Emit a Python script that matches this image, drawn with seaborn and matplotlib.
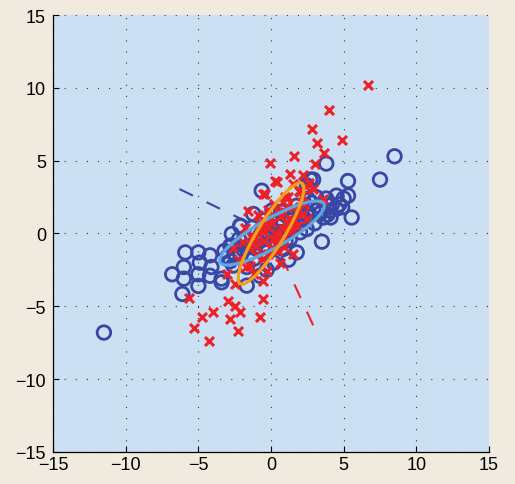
import numpy as np
import matplotlib
matplotlib.use("Agg")
import matplotlib.pyplot as plt
import seaborn as sns
from matplotlib.patches import Ellipse

# ---------------------------
# data
# ---------------------------
blue_x = [-11.5, -5.9, -5.0, -4.2, -6.0, -6.8, -6.0, -6.1, -4.9, -5.0, -4.2, -5.0,
          -3.4, -4.1, -2.8, -2.7, -2.1, -0.64, -1.22, -2.13, -2.7, -2.8, -1.67, -0.76,
          -1.67, -2.6, -3.4, -2.1, -1.45, -0.76, -0.07, 0.85, 1.3, 2.0, 2.2, 2.9,
          3.1, 3.8, 4.05, 2.46, 2.7, 1.77, 0.85, 0.39, -0.3, -1.2, 1.77, 2.46,
          3.6, 4.5, 4.5, 5.3, 3.8, 5.3, 5.55, 5.0, 4.9, 4.1, 3.5, 2.9,
          8.5, 7.5, 0.5, 1.0, -0.5, 1.5, 2.5, 3.0, -1.0, -1.8, 0.2, 1.2,
          -0.3, -3.2, -2.4, -1.3, 0.1, 1.6, 2.8, 3.4, -0.9, 0.7,
          -2.2, -1.6, -0.9, -0.2, 0.6, 1.4, 2.1, 3.3, 4.2, -3.0, -1.9, -1.1,
          0.3, 1.1, 1.9, 2.6, 3.9, 4.7, -2.5, -0.5]
blue_y = [-6.8, -1.3, -1.3, -1.5, -2.3, -2.8, -3.1, -4.15, -2.0, -2.8, -2.9, -3.6,
          -3.35, -2.3, -1.9, -0.84, 0.5, 2.94, 1.34, 0.54, -0.03, -0.84, -3.58, -2.9,
          -2.3, -2.2, -3.1, -1.3, -0.84, -0.15, 0.3, -1.06, -0.38, 0.08, 1.0, 1.7,
          2.5, 2.4, 1.56, 3.3, 3.7, 1.9, 0.77, -0.15, -1.3, -1.75, -1.3, 0.3,
          1.1, 1.7, 2.6, 2.6, 4.8, 3.6, 1.1, 2.4, 1.8, 1.1, -0.56, 3.7,
          5.3, 3.7, 0.5, -0.5, -0.8, 0.5, 1.2, 0.7, 0.0, -0.3, -2.0, -1.8,
          -2.5, -1.2, -1.6, 0.4, 1.6, 1.2, 2.1, 1.4, -0.6, 1.5,
          -0.4, -0.9, -0.5, 0.6, 0.1, 0.9, 1.4, 1.9, 2.0, -1.6, -1.1, -1.0,
          -0.7, 0.2, 0.6, 2.3, 1.3, 2.0, -1.4, 0.9]

red_x = [6.7, 4.0, 2.8, 3.15, 4.9, 3.67, 1.58, -0.1, 3.0, 1.3, 2.2, 0.28,
         1.53, 2.34, 2.9, -0.53, 3.6, -1.56, 0.85, 1.77, -0.07, 0.85, -0.5, -1.9,
         -1.0, 0.16, -0.3, 1.3, 1.53, -1.45, -0.53, -3.0, -2.5, -0.53, -0.53, -2.94,
         -2.48, -2.13, -2.8, -0.76, -2.25, -4.77, -3.97, -5.28, -5.64, -4.3, -0.3, 0.96,
         2.0, 2.2, 0.4, -0.4, 0.5, 1.0, 1.5, -0.5, 0.0, -1.0, 0.8, 1.8,
         2.3, -1.5, -0.8, 0.3, 1.2, -1.2, 0.6, 2.5, -2.2, 0.2, -2.6, -1.1,
         0.9, 1.9, -0.2, 2.6, -1.7, 0.4, 1.4, -0.9,
         -0.6, 0.1, 0.7, 1.1, -1.3, -0.2, 1.6, 2.1, -0.9, 0.5, 1.3, -1.8]
red_y = [10.2, 8.5, 7.2, 6.2, 6.4, 5.5, 5.34, 4.84, 4.8, 4.1, 4.0, 3.6,
         3.4, 3.28, 3.05, 2.7, 2.37, 1.56, 2.14, 1.45, 1.0, 0.3, 0.08, -0.6,
         -0.84, -0.38, 0.54, 1.0, -1.4, -2.2, -1.75, -2.8, -3.47, -3.24, -4.5, -4.6,
         -4.95, -5.4, -5.87, -5.75, -6.67, -5.75, -5.37, -6.5, -4.45, -7.4, -2.55, 2.5,
         2.83, 1.34, 3.55, 2.7, 1.5, 0.8, 1.8, -0.5, -1.0, -1.5, -0.2, 0.5,
         2.0, -1.0, 0.8, 0.0, 2.5, -2.8, -2.0, 1.0, -1.8, 2.0, -1.0, -0.3,
         -0.9, 2.9, 1.6, 3.5, -2.3, -0.4, 0.4, 0.3,
         0.3, 0.7, 1.2, 1.9, -0.3, -1.4, 0.9, 2.6, 1.3, -1.2, 0.1, 0.4]

# principal axes drawn as dashed lines through the origin
blue_dir_x = [-6.3, 0.0]
blue_dir_y = [3.05, 0.0]
red_dir_x = [2.9, 0.0]
red_dir_y = [-6.3, 0.0]

# covariance ellipses: centre, full width, full height, angle (deg)
ell_blue = dict(xy=(0.07, 0.03), width=8.2, height=2.0, angle=29.5)
ell_orange = dict(xy=(0.0, 0.0), width=8.1, height=1.8, angle=58.3)

BLUE = "#3846a6"
RED = "#ec2228"
LIGHTBLUE = "#5aa9e2"
ORANGE = "#f6a01a"

sns.set_style("white")
plt.rcParams['font.family'] = ['Liberation Sans', 'DejaVu Sans']

fig = plt.figure(figsize=(5.15, 4.85), dpi=100, facecolor="#f1ebdf")
ax = fig.add_axes([0.103, 0.066, 0.8465, 0.901])
ax.set_facecolor("#cce0f4")

ax.plot(blue_dir_x, blue_dir_y, color=BLUE, lw=1.5, dashes=(7.2, 7.2), zorder=2)
ax.plot(red_dir_x, red_dir_y, color=RED, lw=1.5, dashes=(7.2, 7.2), zorder=2)

sns.scatterplot(x=blue_x, y=blue_y, ax=ax, marker="o", s=95, facecolor="none",
                edgecolor=BLUE, linewidth=2.0, zorder=3)
sns.scatterplot(x=red_x, y=red_y, ax=ax, marker="x", s=42, color=RED,
                linewidth=2.2, zorder=4)

ax.add_patch(Ellipse(**ell_blue, fill=False, ec=LIGHTBLUE, lw=2.3, zorder=5))
ax.add_patch(Ellipse(**ell_orange, fill=False, ec=ORANGE, lw=2.3, zorder=6))

ticks = [-15, -10, -5, 0, 5, 10, 15]
ax.set_xlim(-15, 15)
ax.set_ylim(-15, 15)
ax.set_xticks(ticks)
ax.set_yticks(ticks)
ax.set_xticklabels([str(t).replace("-", "\u2212") for t in ticks])
ax.set_yticklabels([str(t).replace("-", "\u2212") for t in ticks])
ax.tick_params(direction="in", length=4, width=0.8, labelsize=13,
               colors="black", bottom=True, left=True)
ax.tick_params(axis="x", pad=3)
ax.tick_params(axis="y", pad=5)
ax.grid(True, color="#333333", lw=0.8, linestyle=(0, (1, 9)))
ax.set_axisbelow(True)

for side in ["top", "right"]:
    ax.spines[side].set_visible(False)
for side in ["left", "bottom"]:
    ax.spines[side].set_color("black")
    ax.spines[side].set_linewidth(0.9)

fig.savefig("out.png", dpi=100, facecolor=fig.get_facecolor())
